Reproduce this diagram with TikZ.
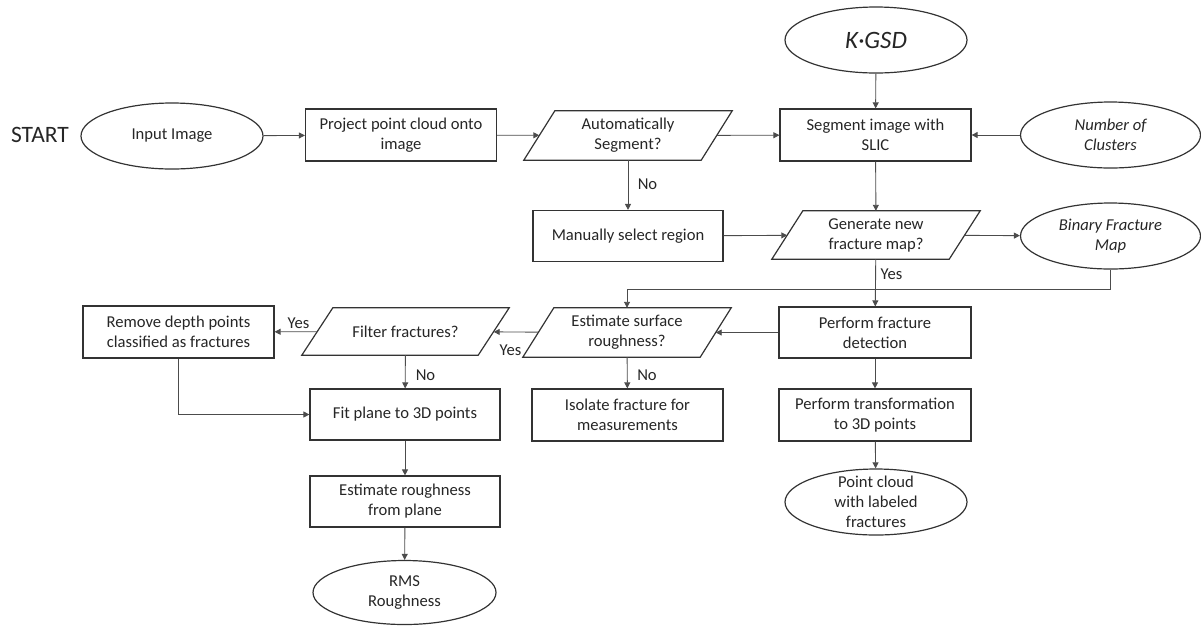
\documentclass[tikz,border=0pt]{standalone}
\usepackage{fontspec}
\setmainfont{Carlito}
\usetikzlibrary{shapes.geometric,arrows.meta}
\begin{document}
\begin{tikzpicture}[x=1pt,y=-1pt,
  every node/.style={font=\fontsize{16.6}{20}\selectfont, text=black!85, inner sep=0pt, align=center},
  box/.style={draw=black!80, line width=1.2pt, minimum width=191pt, minimum height=52pt},
  oval/.style={draw=black!80, line width=1.2pt, ellipse, minimum width=182pt, minimum height=66pt},
  para/.style={minimum width=177pt, minimum height=49pt},
  paraline/.style={draw=black!80, line width=1.2pt, line join=miter},
  link/.style={draw=black!70, line width=0.9pt, -{Triangle[length=6pt,width=6pt]}},
]
\useasboundingbox (0,0) rectangle (1201,625);

% ---- top row ----
\node[font=\fontsize{23.5}{28}\selectfont] (start) at (40,135) {START};
\node[oval] (input) at (172,136) {};
\node at (input) {Input Image};
\node[box] (project) at (401,135) {Project point cloud onto\\image};
\node[para] (auto) at (628,135.5) {Automatically\\Segment?};
\node[box] (slic) at (875.5,135) {Segment image with\\SLIC};
\node[oval] (kgsd) at (876,40) {};
\node[font=\fontsize{25}{30}\selectfont\itshape] at (kgsd) {K·GSD};
\node[oval, minimum width=180pt] (clusters) at (1110.5,135) {};
\node[font=\fontsize{16.6}{20}\selectfont\itshape] at (clusters) {Number of\\Clusters};

% ---- second row ----
\node[box, minimum width=190pt, minimum height=51pt] (manual) at (628,236) {Manually select region};
\node[para, minimum height=48pt] (gen) at (876,235) {Generate new\\fracture map?};
\node[oval, minimum width=180pt] (binary) at (1110.5,236) {};
\node[font=\fontsize{16.6}{20}\selectfont\itshape] at (binary) {Binary Fracture\\Map};

% ---- third row ----
\node[box, minimum width=192pt, minimum height=51pt] (detect) at (875,332.5) {Perform fracture\\detection};
\node[para] (surf) at (627,332.5) {Estimate surface\\roughness?};
\node[para, minimum width=176pt, minimum height=47pt] (filter) at (405.5,331.5) {Filter fractures?};
\node[box] (remove) at (178.5,332) {Remove depth points\\classified as fractures};

% ---- fourth row ----
\node[box, minimum width=190pt, minimum height=51pt] (fit) at (405,414.5) {Fit plane to 3D points};
\node[box] (isolate) at (627.5,415) {Isolate fracture for\\measurements};
\node[box, minimum width=192pt] (transform) at (875,415) {Perform transformation\\to 3D points};

% ---- outputs ----
\node[box, minimum width=190pt, minimum height=51pt] (rough) at (405,501.5) {Estimate roughness\\from plane};
\node[oval] (pcloud) at (876,502) {};
\node at (pcloud) {Point cloud\\with labeled\\fractures};
\node[oval, minimum width=183pt, minimum height=64pt] (rms) at (404.5,592.5) {};
\node at (rms) {RMS\\Roughness};

% decision shapes drawn as parallelograms around their midline boxes
\foreach \n in {auto,gen,surf,filter} {
  \draw[paraline] ([xshift=-15.5pt]\n.south west) -- ([xshift=15.5pt]\n.north west)
    -- ([xshift=15.5pt]\n.north east) -- ([xshift=-15.5pt]\n.south east) -- cycle;
}

% ---- connectors ----
\draw[link] (input) -- (project);
\draw[link] (project) -- (auto);
\draw[link] (auto) -- (slic);
\draw[link] (kgsd) -- (slic);
\draw[link] (clusters) -- (slic);
\draw[link] (auto) -- (manual);
\draw[link] (slic) -- (gen);
\draw[link] (manual) -- (gen);
\draw[link] (gen) -- (binary);
\draw[link] (gen) -- (detect);
\draw[link] (binary.south) -- ++(0,20) -| (surf.north);
\draw[link] (detect) -- (surf);
\draw[link] (surf) -- (filter);
\draw[link] (filter) -- (remove);
\draw[link] (filter) -- (fit);
\draw[link] (remove.south) |- (fit.west);
\draw[link] (fit) -- (rough);
\draw[link] (rough) -- (rms);
\draw[link] (surf) -- (isolate);
\draw[link] (detect) -- (transform);
\draw[link] (transform) -- (pcloud);

% ---- branch labels ----
\node (noA) at (647.5,184) {No};
\node (yesG) at (891.5,274) {Yes};
\node (yesS) at (510.5,350) {Yes};
\node (yesF) at (298.5,323) {Yes};
\node (noF) at (425.5,375) {No};
\node (noS) at (647,375) {No};
\end{tikzpicture}
\end{document}
